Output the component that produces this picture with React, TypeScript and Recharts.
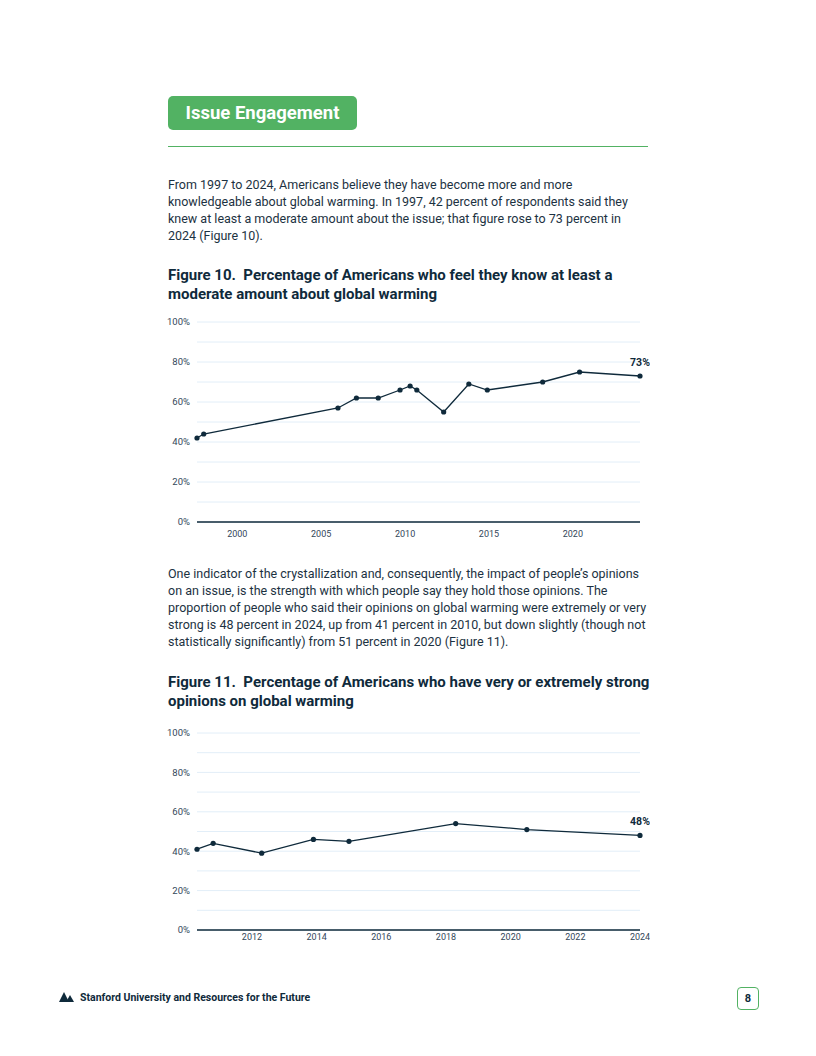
import React from 'react';
import { LineChart, Line, XAxis, YAxis, CartesianGrid } from 'recharts';

// Figure 10: know at least a moderate amount
const fig10Years = [1997.6, 1998, 2006, 2007.1, 2008.4, 2009.7, 2010.3, 2010.7, 2012.3, 2013.8, 2014.9, 2018.2, 2020.4, 2024];
const fig10Values = [42, 44, 57, 62, 62, 66, 68, 66, 55, 69, 66, 70, 75, 73];
const fig10Ticks = [2000, 2005, 2010, 2015, 2020];

// Figure 11: very or extremely strong opinions
const fig11Years = [2010.3, 2010.8, 2012.3, 2013.9, 2015, 2018.3, 2020.5, 2024];
const fig11Values = [41, 44, 39, 46, 45, 54, 51, 48];
const fig11Ticks = [2012, 2014, 2016, 2018, 2020, 2022, 2024];

// grid every 10%, labels every 20%
const yTicks = [0, 10, 20, 30, 40, 50, 60, 70, 80, 90, 100];

const NAVY = '#0f2a3b';
const TEXT = '#1c3242';
const GREEN = '#52b263';
const GRID = '#e2eef8';
const FONT = 'Roboto, "Noto Sans", sans-serif';

function LastLabel(props: any) {
  const { x, y, index, value, lastIndex } = props;
  if (index !== lastIndex) return <g />;
  return (
    <text x={x} y={y - 10} textAnchor="middle" fontSize={10.5} fontWeight={700} fill={NAVY} fontFamily={FONT}>
      {value}%
    </text>
  );
}

interface TrendProps {
  years: number[];
  values: number[];
  ticks: number[];
  height: number;
  tickGap: number;
}

function TrendLine({ years, values, ticks, height, tickGap }: TrendProps) {
  const data = years.map((year, i) => ({ year, value: values[i] }));
  const lastIndex = data.length - 1;
  return (
    <LineChart width={490} height={height} data={data} margin={{ top: 10, right: 10, bottom: 5, left: 7 }}>
      <CartesianGrid vertical={false} stroke={GRID} strokeWidth={1} />
      <XAxis
        type="number"
        dataKey="year"
        domain={['dataMin', 'dataMax']}
        ticks={ticks}
        height={20}
        tickLine={false}
        tickSize={0}
        tickMargin={tickGap}
        axisLine={{ stroke: NAVY, strokeWidth: 1.3 }}
        tick={{ fontSize: 9, fill: '#33475a', fontFamily: FONT }}
      />
      <YAxis
        domain={[0, 100]}
        ticks={yTicks}
        interval={0}
        width={30}
        tickLine={false}
        axisLine={false}
        tickSize={0}
        tickMargin={7}
        tickFormatter={(v: number) => (v % 20 === 0 ? `${v}%` : '')}
        tick={{ fontSize: 9.5, fill: '#33475a', fontFamily: FONT }}
      />
      <Line
        type="linear"
        dataKey="value"
        stroke={NAVY}
        strokeWidth={1.3}
        dot={{ r: 2.6, fill: NAVY, stroke: NAVY, strokeWidth: 0 }}
        isAnimationActive={false}
        label={(p: any) => <LastLabel {...p} lastIndex={lastIndex} />}
      />
    </LineChart>
  );
}

const para: React.CSSProperties = {
  position: 'absolute',
  left: 168,
  fontSize: 12.5,
  lineHeight: '17px',
  color: TEXT,
  whiteSpace: 'nowrap',
  margin: 0,
};

const title: React.CSSProperties = {
  position: 'absolute',
  left: 168,
  fontSize: 15,
  lineHeight: '19px',
  fontWeight: 700,
  color: NAVY,
  whiteSpace: 'nowrap',
  margin: 0,
};

export default function App() {
  return (
    <div style={{ position: 'absolute', left: 0, top: 0, width: 816, height: 1056, background: '#fff', fontFamily: FONT }}>
      {/* Section header */}
      <div
        style={{
          position: 'absolute', left: 168, top: 96, width: 189, height: 34, background: GREEN, borderRadius: 5,
          color: '#fff', fontWeight: 700, fontSize: 18.5, lineHeight: '34px', textAlign: 'center',
        }}
      >
        Issue Engagement
      </div>
      <div style={{ position: 'absolute', left: 168, top: 146, width: 480, height: 1, background: GREEN }} />

      <p style={{ ...para, top: 176 }}>
        From 1997 to 2024, Americans believe they have become more and more<br />
        knowledgeable about global warming. In 1997, 42 percent of respondents said they<br />
        knew at least a moderate amount about the issue; that figure rose to 73 percent in<br />
        2024 (Figure 10).
      </p>

      <p style={{ ...title, top: 266 }}>
        Figure 10.&nbsp; Percentage of Americans who feel they know at least a<br />
        moderate amount about global warming
      </p>

      <div style={{ position: 'absolute', left: 160, top: 312 }}>
        <TrendLine years={fig10Years} values={fig10Values} ticks={fig10Ticks} height={235} tickGap={9} />
      </div>

      <p style={{ ...para, top: 565 }}>
        One indicator of the crystallization and, consequently, the impact of people’s opinions<br />
        on an issue, is the strength with which people say they hold those opinions. The<br />
        proportion of people who said their opinions on global warming were extremely or very<br />
        strong is 48 percent in 2024, up from 41 percent in 2010, but down slightly (though not<br />
        statistically significantly) from 51 percent in 2020 (Figure 11).
      </p>

      <p style={{ ...title, top: 673 }}>
        Figure 11.&nbsp; Percentage of Americans who have very or extremely strong<br />
        opinions on global warming
      </p>

      <div style={{ position: 'absolute', left: 160, top: 723 }}>
        <TrendLine years={fig11Years} values={fig11Values} ticks={fig11Ticks} height={232} tickGap={4} />
      </div>

      {/* Footer */}
      <svg style={{ position: 'absolute', left: 59, top: 991 }} width={16} height={12}>
        <polygon points="0,11 5,1 10,11" fill={NAVY} />
        <polygon points="7,11 11,4 15,11" fill={NAVY} />
      </svg>
      <div style={{ position: 'absolute', left: 80, top: 991, fontSize: 10.5, fontWeight: 700, color: NAVY, whiteSpace: 'nowrap' }}>
        Stanford University and Resources for the Future
      </div>
      <div
        style={{
          position: 'absolute', left: 737, top: 987, width: 20, height: 21, border: `1.2px solid ${GREEN}`, borderRadius: 4,
          fontSize: 11, fontWeight: 700, color: NAVY, textAlign: 'center', lineHeight: '21px',
        }}
      >
        8
      </div>
    </div>
  );
}
